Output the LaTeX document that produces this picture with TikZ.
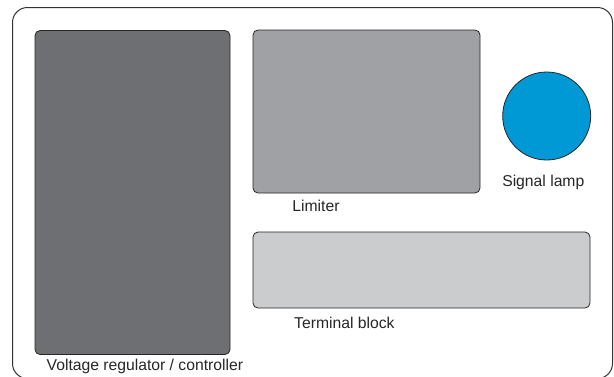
\documentclass[tikz,border=0pt]{standalone}
\usepackage{fontspec}
\setmainfont{Liberation Sans}
\usetikzlibrary{positioning}

\definecolor{regulatorgray}{HTML}{6E6F73}
\definecolor{limitergray}{HTML}{A0A1A5}
\definecolor{terminalgray}{HTML}{CBCCCE}
\definecolor{lampblue}{HTML}{0099D6}

\tikzset{
  part/.style={draw=black!85,line width=0.8pt,rounded corners=5pt,inner sep=0pt},
  partlabel/.style={inner sep=0pt,anchor=base west,font=\fontsize{15.7}{18}\selectfont,text=black!85}
}

\begin{document}
\begin{tikzpicture}[x=1pt,y=-1pt]
\useasboundingbox (0,0) rectangle (614,376);
\clip (0,0) rectangle (614,376);

% Housing outline (runs past the lower edge)
\draw[black!80,line width=1pt,rounded corners=15pt] (12.5,7.5) rectangle (612.5,378.5);

% Voltage regulator
\node[part,fill=regulatorgray,minimum width=195pt,minimum height=324pt] (regulator) at (132.5,192.5) {};
\node[partlabel] (regulatorlabel) at (46.5,370.7) {Voltage regulator / controller};

% Limiter
\node[part,fill=limitergray,minimum width=227pt,minimum height=163pt] (limiter) at (366.5,111.5) {};
\node[partlabel] (limiterlabel) at (292.2,211.7) {Limiter};

% Terminal block
\node[part,fill=terminalgray,minimum width=337pt,minimum height=76pt] (terminal) at (421.5,270) {};
\node[partlabel] (terminallabel) at (294,328.7) {Terminal block};

% Signal lamp
\node[circle,draw=black!85,line width=0.8pt,fill=lampblue,minimum size=88pt,inner sep=0pt] (lamp) at (546.7,116) {};
\node[partlabel,anchor=base] (lamplabel) at (543.3,186) {Signal lamp};
\end{tikzpicture}
\end{document}
